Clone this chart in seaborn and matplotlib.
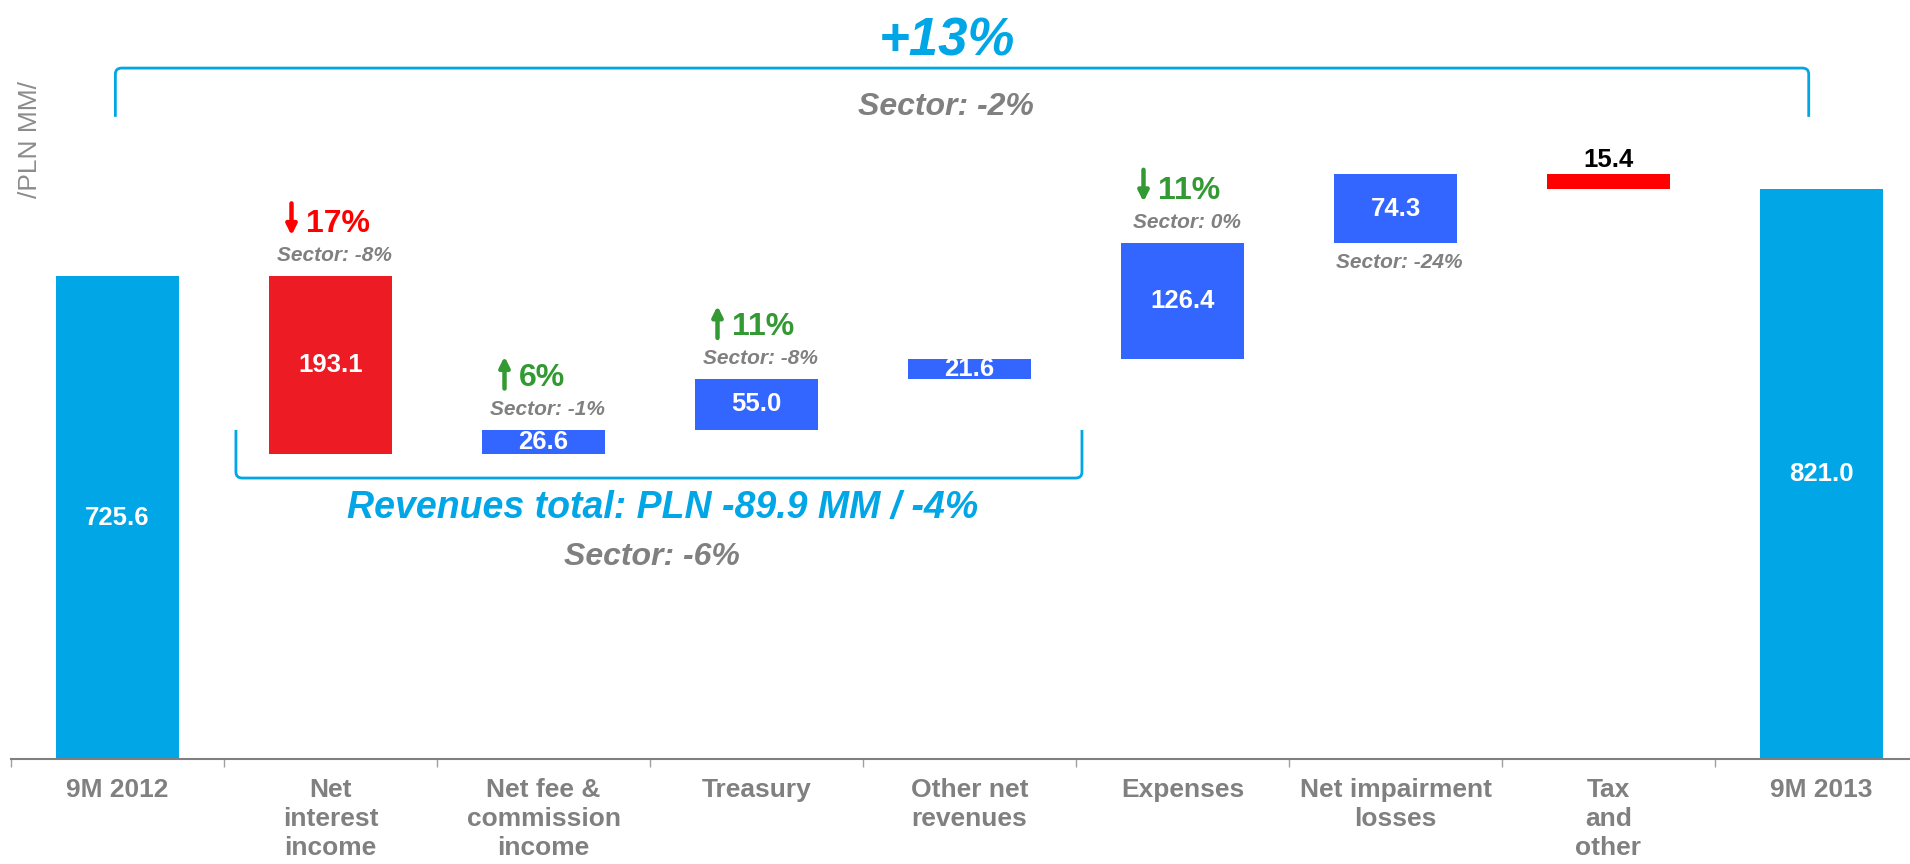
import numpy as np
import seaborn as sns
import matplotlib.pyplot as plt
from matplotlib.path import Path
from matplotlib.patches import PathPatch
from matplotlib.transforms import offset_copy

# data (PLN MM)
categories = ["9M 2012", "Net\ninterest\nincome", "Net fee &\ncommission\nincome", "Treasury",
              "Other net\nrevenues", "Expenses", "Net impairment\nlosses", "Tax\nand\nother", "9M 2013"]
start_value = 725.6
deltas = [-193.1, 26.6, 55.0, 21.6, 126.4, 74.3, -15.4]
end_value = 821.0
value_labels = ["725.6", "193.1", "26.6", "55.0", "21.6", "126.4", "74.3", "15.4", "821.0"]
change_idx = [1, 2, 3, 5]
change_pct = ["17%", "6%", "11%", "11%"]
change_up = [False, True, True, False]
change_good = [False, True, True, True]
sector_idx = [1, 2, 3, 5, 6]
sector_pct = ["-8%", "-1%", "-8%", "0%", "-24%"]
total_change = "+13%"
total_sector = "Sector: -2%"
revenue_text = "Revenues total: PLN -89.9 MM / -4%"
revenue_sector = "Sector: -6%"

CYAN = "#00A6E6"
GREY = "#808080"
GREEN = "#339933"
bar_colors = [CYAN, "#ED1C24", "#3366FF", "#3366FF", "#3366FF", "#3366FF", "#3366FF", "#FF0000", CYAN]

# waterfall geometry
cum = start_value + np.cumsum(deltas)
before = np.r_[start_value, cum[:-1]]
bottoms = np.r_[0, np.minimum(before, cum), 0]
heights = np.r_[start_value, np.abs(deltas), end_value]
tops = bottoms + heights

sns.set_theme(style="white")
plt.rcParams["font.family"] = ["Liberation Sans", "DejaVu Sans"]

fig = plt.figure(figsize=(19.1, 8.64), dpi=100)
ax = fig.add_axes([11 / 1910, 105 / 864, 1917 / 1910, 759 / 864])

sns.barplot(x=list(range(9)), y=heights, bottom=bottoms, color=CYAN, saturation=1,
            width=0.58, ax=ax)
for patch, c in zip(ax.patches, bar_colors):
    patch.set_facecolor(c)
    patch.set_edgecolor("none")

Y0 = 201
ax.set_ylim(Y0, Y0 + 759 / 0.92)
ax.set_xlim(-0.5, 8.5)
ax.set_yticks([])
ax.set_ylabel("")
for s in ["left", "top", "right"]:
    ax.spines[s].set_visible(False)
ax.spines["bottom"].set_color(GREY)
ax.spines["bottom"].set_linewidth(1.5)

ax.set_xticks(range(9))
ax.set_xticklabels(categories, fontsize=19, fontweight="bold", color=GREY, linespacing=1.25)
ax.set_xticks(np.arange(-0.5, 9, 1), minor=True)
ax.tick_params(axis="x", which="major", length=0, pad=14)
ax.tick_params(axis="x", which="minor", bottom=True, length=6, width=1, color="#A0A0A0")

# values
for i, lab in enumerate(value_labels):
    if i == 7:
        ax.annotate(lab, (i, tops[i]), xytext=(0, 7), textcoords="offset pixels",
                    ha="center", va="baseline", fontsize=18.5, fontweight="bold", color="black")
    else:
        y = (max(bottoms[i], Y0) + tops[i]) / 2
        ax.text(i, y, lab, ha="center", va="center", fontsize=18.5, fontweight="bold", color="white")

# changes with arrows
for i, pct, up, good in zip(change_idx, change_pct, change_up, change_good):
    c = GREEN if good else "#FF0000"
    ax.annotate(pct, (i, tops[i]), xytext=(-25, 44), textcoords="offset pixels",
                ha="left", va="baseline", fontsize=23, fontweight="bold", color=c)
    lo = offset_copy(ax.transData, fig=fig, x=-39, y=41, units="dots")
    hi = offset_copy(ax.transData, fig=fig, x=-39, y=73, units="dots")
    head, tail = (hi, lo) if up else (lo, hi)
    ax.annotate("", xy=(i, tops[i]), xycoords=head, xytext=(i, tops[i]), textcoords=tail,
                arrowprops=dict(arrowstyle="-|>,head_length=0.3,head_width=0.15", lw=3.2,
                                color=c, mutation_scale=20, shrinkA=0, shrinkB=0))

for i, sp in zip(sector_idx, sector_pct):
    if i == 6:
        ax.annotate("Sector: " + sp, (i, bottoms[i]), xytext=(4, -25), textcoords="offset pixels",
                    ha="center", va="baseline", fontsize=15, fontweight="bold", style="italic", color=GREY)
    else:
        ax.annotate("Sector: " + sp, (i, tops[i]), xytext=(4, 15), textcoords="offset pixels",
                    ha="center", va="baseline", fontsize=15, fontweight="bold", style="italic", color=GREY)


def bracket(x0, x1, y_line, y_end, rx=0.03, ry=6.5):
    s = np.sign(y_end - y_line)
    verts = [(x0, y_end), (x0, y_line + s * ry), (x0, y_line), (x0 + rx, y_line),
             (x1 - rx, y_line), (x1, y_line), (x1, y_line + s * ry), (x1, y_end)]
    codes = [Path.MOVETO, Path.LINETO, Path.CURVE3, Path.CURVE3,
             Path.LINETO, Path.CURVE3, Path.CURVE3, Path.LINETO]
    ax.add_patch(PathPatch(Path(verts, codes), fill=False, ec=CYAN, lw=2, clip_on=False))


bracket(-0.01, 7.94, 952, 899)
bracket(0.556, 4.528, 506.4, 558.6)

ax.text(3.894, 966, total_change, ha="center", va="baseline", fontsize=38,
        fontweight="bold", style="italic", color=CYAN)
ax.text(3.89, 901, total_sector, ha="center", va="baseline", fontsize=23,
        fontweight="bold", style="italic", color=GREY)
ax.text(2.56, 463, revenue_text, ha="center", va="baseline", fontsize=27,
        fontweight="bold", style="italic", color=CYAN)
ax.text(2.51, 412, revenue_sector, ha="center", va="baseline", fontsize=23,
        fontweight="bold", style="italic", color=GREY)

fig.text(30 / 1910, 1 - 139 / 864, "/PLN MM/", rotation=90, ha="center", va="center",
         fontsize=19, color="#8C8C8C")

fig.savefig("out.png", dpi=100)
